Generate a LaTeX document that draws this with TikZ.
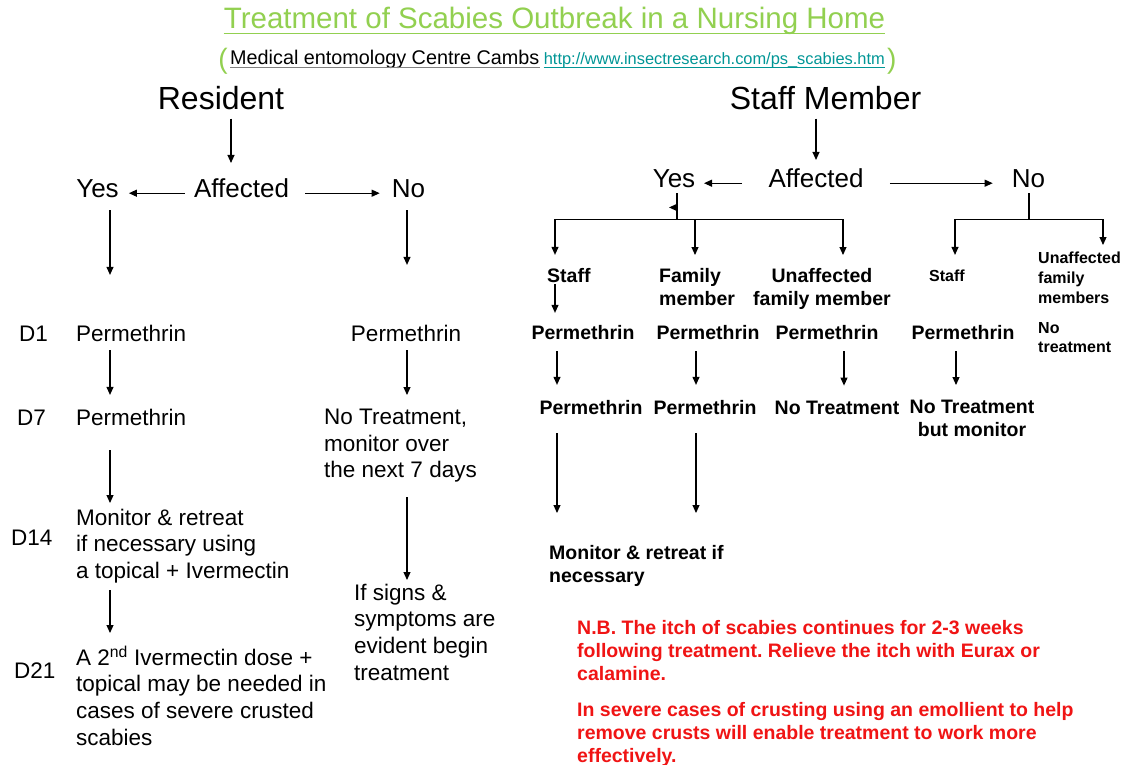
\documentclass[tikz,border=0pt]{standalone}
\usepackage{fontspec}
\setmainfont{Liberation Sans}
\usepackage{xcolor}
\usetikzlibrary{arrows.meta,positioning}
\frenchspacing

\definecolor{titlegreen}{RGB}{146,208,80}
\definecolor{linkteal}{RGB}{0,150,150}
\definecolor{notered}{RGB}{240,20,20}

\tikzset{
    big/.style={font=\fontsize{32}{38}\selectfont, inner sep=0pt},
    mid/.style={font=\fontsize{26}{31}\selectfont, inner sep=0pt},
    txt/.style={font=\fontsize{22.5}{26.8}\selectfont, inner sep=0pt, align=left},
    btxt/.style={font=\bfseries\fontsize{19.5}{23}\selectfont, inner sep=0pt, align=left},
    stxt/.style={font=\bfseries\fontsize{16}{19.7}\selectfont, inner sep=0pt, align=left},
    arr/.style={-{Triangle[length=8pt,width=7pt]}, line width=1.1pt},
    bar/.style={line width=1.1pt},
}

\begin{document}
\begin{tikzpicture}[x=1pt,y=-1pt]
        % Draw page
        \fill[white] (0,0) rectangle (1129,765);
        \useasboundingbox (0,0) rectangle (1129,765);
        % Draw title
        \node[font=\fontsize{29.5}{35}\selectfont, text=titlegreen, inner sep=0pt, anchor=base] (title) at (554.5,29) {Treatment of Scabies Outbreak in a Nursing Home};
        \draw[titlegreen, line width=1.6pt] ([yshift=-4.5pt]title.base west) -- ([yshift=-4.5pt]title.base east);
        \node[font=\fontsize{19.8}{24}\selectfont, inner sep=0pt, anchor=base west] (src) at (230,65) {Medical entomology Centre Cambs};
        \node[font=\fontsize{16.4}{20}\selectfont, text=linkteal, inner sep=0pt, anchor=base west] (url) at ([xshift=4pt]src.base east) {http://www.insectresearch.com/ps\_scabies.htm};
        \draw[gray, line width=1pt] ([yshift=-3pt]src.base west) -- ([yshift=-3pt]src.base east);
        \draw[linkteal, line width=1pt] ([yshift=-3pt]url.base west) -- ([yshift=-3pt]url.base east);
        \node[font=\fontsize{28}{32}\selectfont, text=titlegreen, inner sep=0pt, anchor=base east] (lpar) at ([xshift=-2pt,yshift=-4pt]src.base west) {(};
        \node[font=\fontsize{28}{32}\selectfont, text=titlegreen, inner sep=0pt, anchor=base west] (rpar) at ([xshift=2pt,yshift=-4pt]url.base east) {)};

        % Draw resident side
        \node[big, anchor=base] (res) at (221,110) {Resident};
        \node[mid, anchor=base] (aff) at (241.5,197) {Affected};
        \node[mid, anchor=base] (yes) at (97.5,197) {Yes};
        \node[mid, anchor=base] (no) at (408.5,197) {No};
        \node[txt, anchor=base west] (d1) at (19,341) {D1};
        \node[txt, anchor=base west] (d7) at (17,425) {D7};
        \node[txt, anchor=base west] (d14) at (11,545) {D14};
        \node[txt, anchor=base west] (d21) at (14,678) {D21};
        \node[txt, anchor=base west] (lp1) at (76,341) {Permethrin};
        \node[txt, anchor=base west] (lp7) at (76,425) {Permethrin};
        \node[txt, anchor=north west] (lmon) at (76,508.6) {Monitor \& retreat\\if necessary using\\a topical + Ivermectin};
        \node[txt, anchor=north west] (ldose) at (76,648.6) {A 2\smash{\textsuperscript{nd}} Ivermectin dose +\\topical may be needed in\\cases of severe crusted\\scabies};
        \node[txt, anchor=base] (rp1) at (406,341) {Permethrin};
        \node[txt, anchor=north west] (rnotr) at (324,408.6) {No Treatment,\\monitor over\\the next 7 days};
        \node[txt, anchor=north west] (rsign) at (354,583.6) {If signs \&\\symptoms are\\evident begin\\treatment};

        \draw[arr, shorten <=8pt, shorten >=15pt] ([xshift=10pt]res.south) -- ([xshift=10pt]res.south |- aff.north);
        \draw[arr, shorten <=9pt, shorten >=10pt] ([yshift=-5.5pt]aff.west) -- ([yshift=-5.5pt]aff.west -| yes.east);
        \draw[arr, shorten <=16pt, shorten >=12pt] ([yshift=-5.5pt]aff.east) -- ([yshift=-5.5pt]aff.east -| no.west);
        \draw[arr, shorten <=13pt, shorten >=49.6pt] ([xshift=12.5pt]yes.south) -- ([xshift=12.5pt]yes.south |- lp1.north);
        \draw[arr, shorten <=13pt, shorten >=59.6pt] ([xshift=-1.5pt]no.south) -- ([xshift=-1.5pt]no.south |- rp1.north);
        \draw[arr, shorten <=9pt, shorten >=13.6pt] ([xshift=34pt]lp1.south west) -- ([xshift=34pt]lp1.south west |- lp7.north);
        \draw[arr, shorten <=9pt, shorten >=13.6pt] ([xshift=1pt]rp1.south) -- ([xshift=1pt]rp1.south |- rnotr.north);
        \draw[arr, shorten <=25pt, shorten >=5.6pt] ([xshift=34pt]lp7.south west) -- ([xshift=34pt]lp7.south west |- lmon.north);
        \draw[arr, shorten <=14.7pt, shorten >=3.6pt] ([xshift=83pt]rnotr.south west) -- ([xshift=83pt]rnotr.south west |- rsign.north);
        \draw[arr, shorten <=6.7pt, shorten >=15.6pt] ([xshift=34pt]lmon.south west) -- ([xshift=34pt]lmon.south west |- ldose.north);

        % Draw staff side
        \node[big, anchor=base] (sm) at (825.5,110) {Staff Member};
        \node[mid, anchor=base] (raff) at (816,187) {Affected};
        \node[mid, anchor=base] (ryes) at (674,187) {Yes};
        \node[mid, anchor=base] (rno) at (1028.5,187) {No};
        \node[btxt, anchor=base west] (rs1) at (547,282) {Staff};
        \node[btxt, anchor=north west] (rfam) at (659,267.8) {Family\\member};
        \node[btxt, anchor=north, align=center] (runaff) at (822,267.8) {Unaffected\\family member};
        \node[stxt, anchor=base west] (rs2) at (929,281) {Staff};
        \node[stxt, anchor=north west] (runf) at (1038,252) {Unaffected\\family\\members};
        \node[stxt, anchor=north west] (rnone) at (1038,322) {No\\treatment};
        \node[btxt, anchor=base] (pa1) at (583,339) {Permethrin};
        \node[btxt, anchor=base] (pa2) at (708,339) {Permethrin};
        \node[btxt, anchor=base] (pa3) at (827,339) {Permethrin};
        \node[btxt, anchor=base] (pa4) at (963,339) {Permethrin};
        \node[btxt, anchor=base] (pb1) at (591,414) {Permethrin};
        \node[btxt, anchor=base] (pb2) at (705,414) {Permethrin};
        \node[btxt, anchor=base] (pb3) at (837,414) {No Treatment};
        \node[btxt, anchor=north, align=center] (pb4) at (972,399.8) {No Treatment\\but monitor};
        \node[btxt, anchor=north west] (rmon) at (549,544.8) {Monitor \& retreat if\\necessary};

        \draw[arr, shorten <=8pt, shorten >=8pt] ([xshift=-9.5pt]sm.south) -- ([xshift=-9.5pt]sm.south |- raff.north);
        \draw[arr, shorten <=26.3pt, shorten >=8.6pt] ([yshift=-5.5pt]raff.west) -- ([yshift=-5.5pt]raff.west -| ryes.east);
        \draw[arr, shorten <=26.3pt, shorten >=19pt] ([yshift=-5.5pt]raff.east) -- ([yshift=-5.5pt]raff.east -| rno.west);
        % Yes branch
        \coordinate (ybus) at ([xshift=3pt,yshift=-32pt]ryes.south);
        \draw[bar, shorten <=6pt] ([xshift=3pt]ryes.south) -- (ybus);
        \draw[arr] ([xshift=3pt,yshift=-20pt]ryes.south) -- ++(-8,0);
        \draw[arr, shorten >=12.8pt] (ybus) -| ([xshift=8pt]rs1.north west);
        \draw[arr, shorten >=12.8pt] (ybus) -| ([xshift=36pt]rfam.north west);
        \draw[arr, shorten >=12.8pt] (ybus) -| ([xshift=21pt]runaff.north);
        % No branch
        \coordinate (nbus) at ([xshift=0.5pt,yshift=-32pt]rno.south);
        \draw[bar, shorten <=6pt] ([xshift=0.5pt]rno.south) -- (nbus);
        \draw[arr, shorten >=14.3pt] (nbus) -| ([xshift=26pt]rs2.north west);
        \draw[arr, shorten >=7pt] (nbus) -| ([xshift=65pt]runf.north west);
        % Treatment steps
        \draw[arr, shorten <=2pt, shorten >=11.8pt] ([xshift=8pt]rs1.south west) -- ([xshift=8pt]rs1.south west |- pa1.north);
        \draw[arr, shorten <=12pt, shorten >=14.8pt] ([xshift=-26pt]pa1.south) -- ([xshift=-26pt]pa1.south |- pb1.north);
        \draw[arr, shorten <=12pt, shorten >=14.8pt] ([xshift=-12pt]pa2.south) -- ([xshift=-12pt]pa2.south |- pb2.north);
        \draw[arr, shorten <=12pt, shorten >=14.8pt] ([xshift=17pt]pa3.south) -- ([xshift=17pt]pa3.south |- pb3.north);
        \draw[arr, shorten <=12pt, shorten >=14.8pt] ([xshift=-7pt]pa4.south) -- ([xshift=-7pt]pa4.south |- pb4.north);
        \draw[arr, shorten <=19pt, shorten >=31.8pt] ([xshift=-34pt]pb1.south) -- ([xshift=-34pt]pb1.south |- rmon.north);
        \draw[arr, shorten <=19pt, shorten >=31.8pt] ([xshift=-9pt]pb2.south) -- ([xshift=-9pt]pb2.south |- rmon.north);

        % Draw note
        \node[btxt, text=notered, anchor=north west] (nb) at (577,619.8) {N.B. The itch of scabies continues for 2-3 weeks\\following treatment. Relieve the itch with Eurax or\\calamine.\\[13pt]In severe cases of crusting using an emollient to help\\remove crusts will enable treatment to work more\\effectively.};
\end{tikzpicture}
\end{document}
